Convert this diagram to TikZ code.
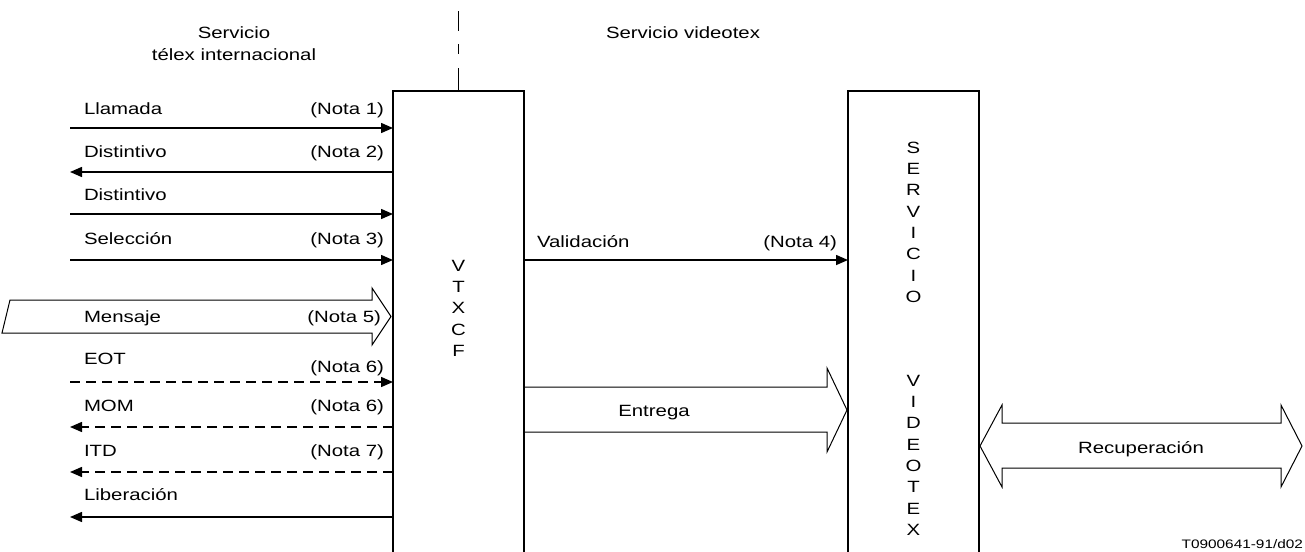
\documentclass[tikz,border=0pt]{standalone}
\usepackage{fontspec}
\setmainfont{Liberation Sans}[FakeStretch=1.25]
\usetikzlibrary{arrows.meta}
\begin{document}
\begin{tikzpicture}[x=1pt,y=-1pt,
  every node/.style={font=\fontsize{16.3}{21.3}\selectfont, inner sep=0pt, outer sep=0pt},
  box/.style={draw, line width=2pt, minimum width=131pt, minimum height=490pt, anchor=north west},
  sig/.style={line width=1.5pt, -{Triangle[length=12pt,width=10pt]}},
  dsig/.style={sig, dash pattern=on 10pt off 6pt},
  lbl/.style={anchor=base west},
  note/.style={anchor=base east},
  big/.style={draw, line width=1pt, line join=miter},
  stack/.style={anchor=north, align=center}
]
\useasboundingbox (0,0) rectangle (1305,551);

% boxes
\node[box] (vtx) at (393,91) {};
\node[box] (svc) at (848,91) {};
\draw[line width=1pt, dash pattern=on 23pt off 14pt on 10pt off 13pt] (vtx.north) -- ++(0,-80);

% header texts
\node[anchor=base, align=center] (h1) at (234,60) {Servicio\\t\'elex internacional};
\node[anchor=base west] (h2) at (606,39) {Servicio videotex};

% vertical letter stacks
\node[stack] (vtxt) at (458.5,260) {V\\T\\X\\C\\F};
\node[stack] (svt1) at (913.5,142) {S\\E\\R\\V\\I\\C\\I\\O};
\node[stack] (svt2) at (913.5,375) {V\\I\\D\\E\\O\\T\\E\\X};

% free ends of the signals
\coordinate (a1) at (70,128);
\coordinate (a2) at (70,172);
\coordinate (a3) at (70,214);
\coordinate (a4) at (70,260);
\coordinate (a6) at (70,382);
\coordinate (a7) at (70,427);
\coordinate (a8) at (70,472);
\coordinate (a9) at (70,517);

% signal labels
\node[lbl] (t1) at (84,114) {Llamada};
\node[note] (n1) at (384,114) {(Nota 1)};
\node[lbl] (t2) at (84,157) {Distintivo};
\node[note] (n2) at (384,157) {(Nota 2)};
\node[lbl] (t3) at (84,200) {Distintivo};
\node[lbl] (t4) at (84,244) {Selecci\'on};
\node[note] (n4) at (384,244) {(Nota 3)};
\node[lbl] (t5) at (84,322) {Mensaje};
\node[note] (n5) at (381,322) {(Nota 5)};
\node[lbl] (t6) at (84,364) {EOT};
\node[note] (n6) at (384,372) {(Nota 6)};
\node[lbl] (t7) at (84,411) {MOM};
\node[note] (n7) at (384,411) {(Nota 6)};
\node[lbl] (t8) at (84,456) {ITD};
\node[note] (n8) at (384,456) {(Nota 7)};
\node[lbl] (t9) at (84,500) {Liberaci\'on};

% signals
\draw[sig] (a1) -- (a1 -| vtx.west);
\draw[sig] (a2 -| vtx.west) -- (a2);
\draw[sig] (a3) -- (a3 -| vtx.west);
\draw[sig] (a4) -- (a4 -| vtx.west);
\draw[dsig] (a6) -- (a6 -| vtx.west);
\draw[dsig] (a7 -| vtx.west) -- (a7);
\draw[dsig] (a8 -| vtx.west) -- (a8);
\draw[sig] (a9 -| vtx.west) -- (a9);

% Mensaje wide arrow
\draw[big] (10,300) -- (372,300) -- (372,288) -- (391,316.5) -- (372,345) -- (372,333) -- (2,333) -- cycle;

% Validacion
\coordinate (vy) at (0,260);
\node[lbl] (tv) at (537,247) {Validaci\'on};
\node[note] (nv) at (837,247) {(Nota 4)};
\draw[sig] (vtx.east |- vy) -- (svc.west |- vy);

% Entrega wide arrow
\draw[big] (vtx.east |- 0,387) -- (827,387) -- (827,368) -- (847,410) -- (827,452) -- (827,432) -- (vtx.east |- 0,432);
\node[anchor=base] (te) at (654,416) {Entrega};

% Recuperacion double arrow
\draw[big] (980,446) -- (1002,405) -- (1002,423) -- (1281,423) -- (1281,405) -- (1302,446)
  -- (1281,487) -- (1281,468) -- (1002,468) -- (1002,487) -- cycle;
\node[anchor=base] (tr) at (1141,453) {Recuperaci\'on};

% figure code
\node[anchor=base east, font=\fontsize{12.3}{14}\selectfont] (code) at (1303,548) {T0900641-91/d02};
\end{tikzpicture}
\end{document}
